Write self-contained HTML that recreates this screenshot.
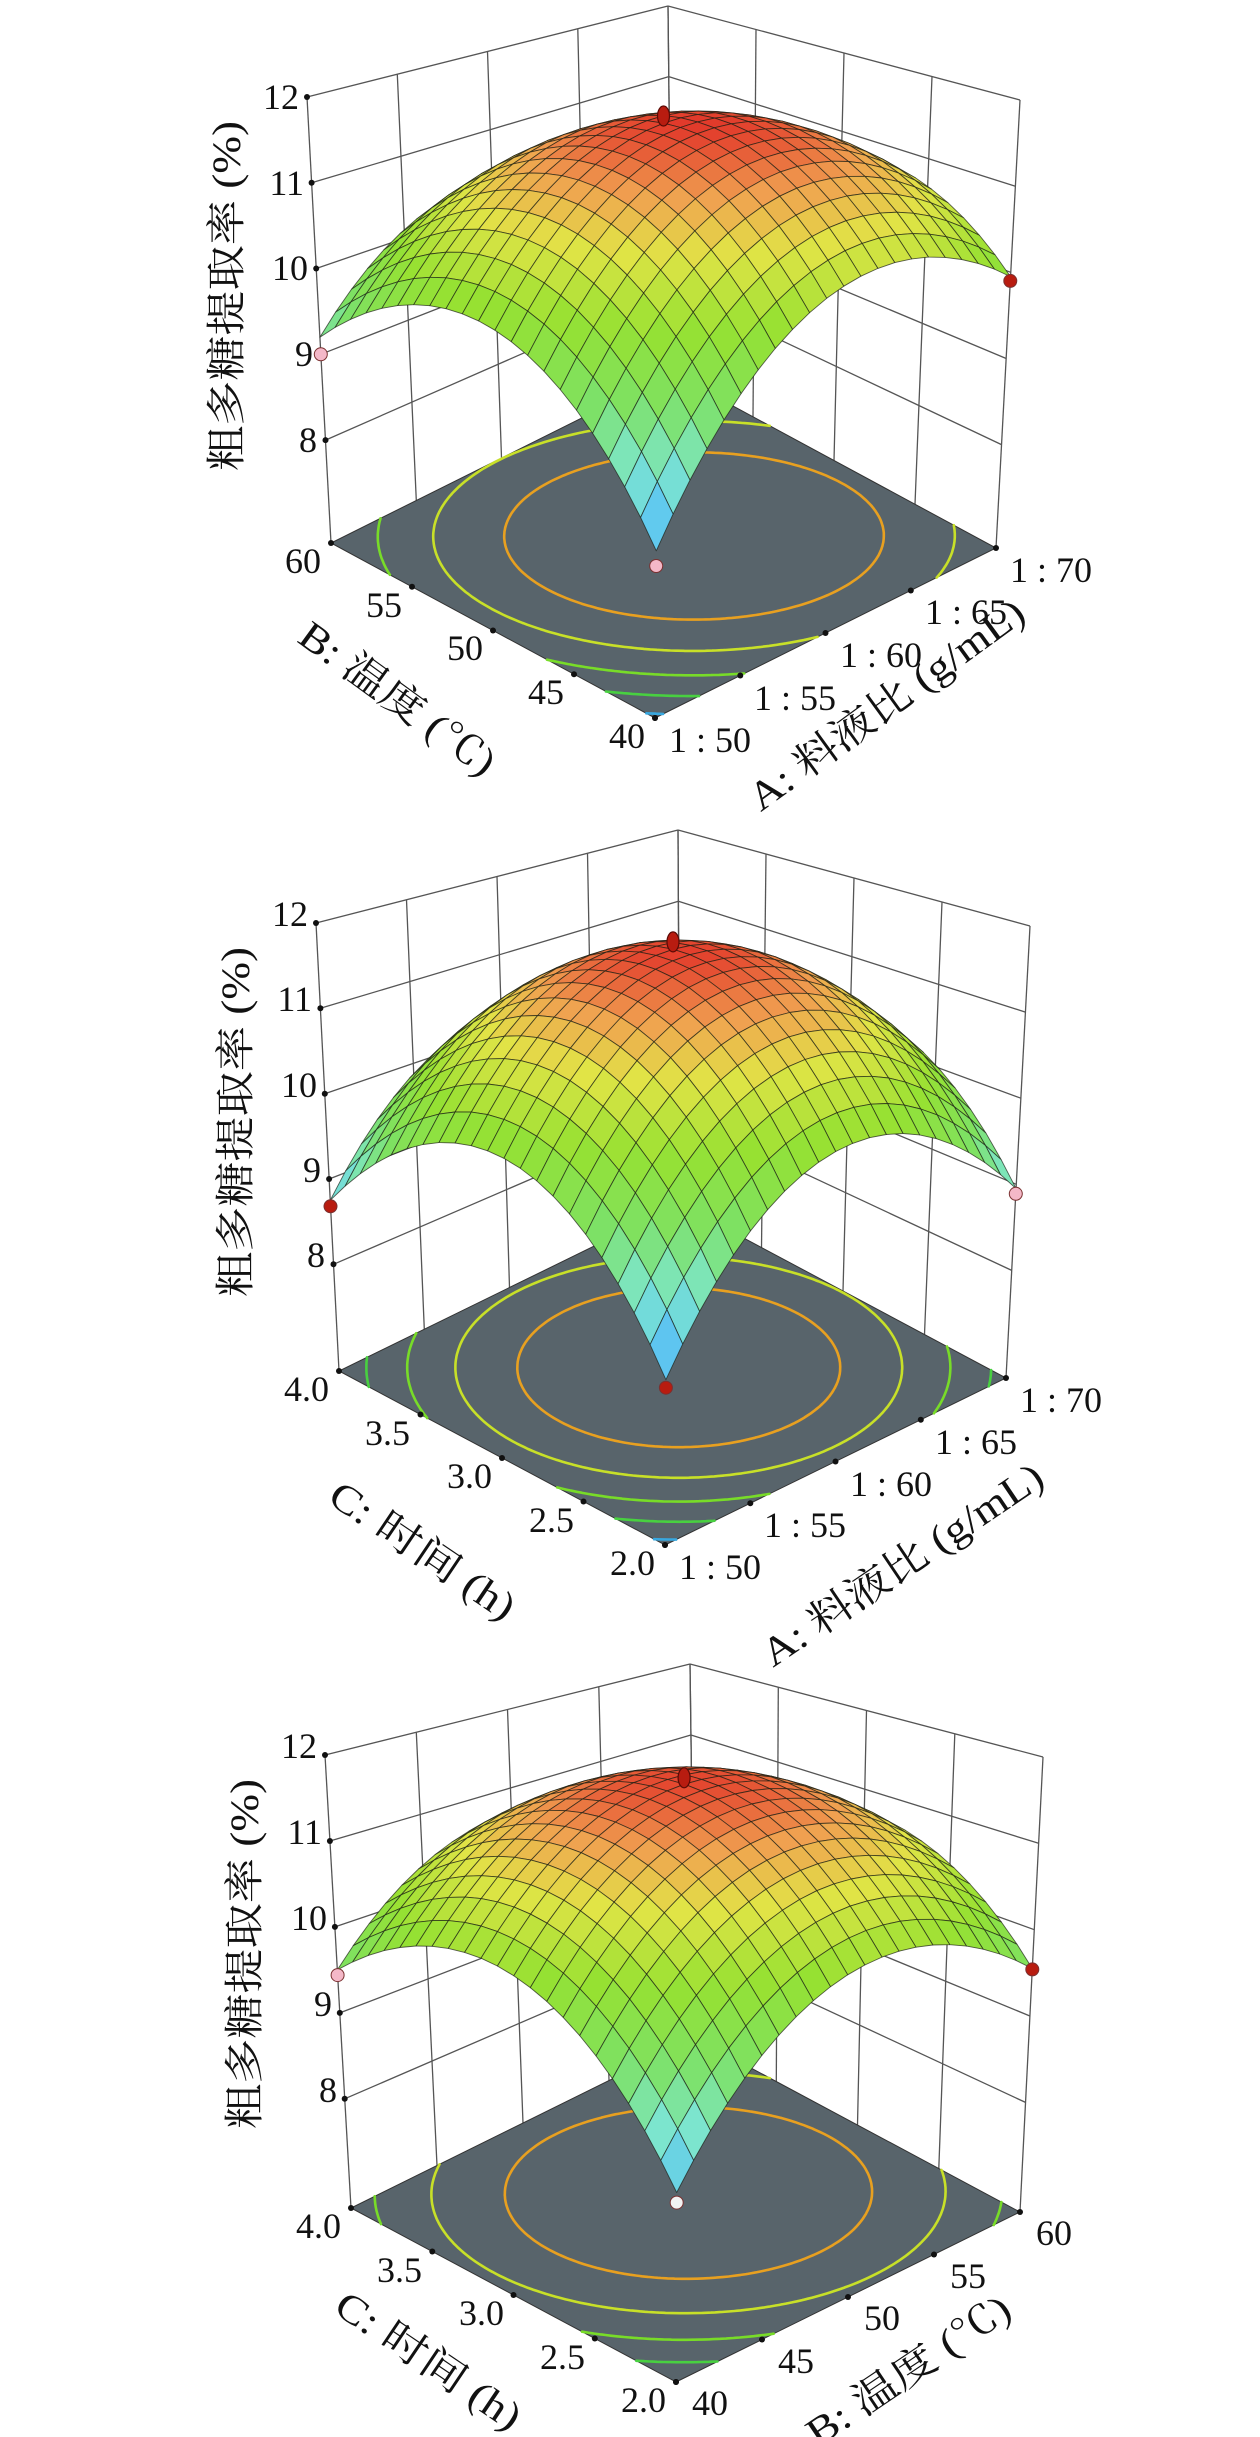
<!DOCTYPE html>
<html><head><meta charset="utf-8">
<style>
html,body{margin:0;padding:0;background:#fff;}
svg{display:block;}
.t{font-family:"Liberation Serif","Noto Serif CJK SC",serif;font-size:36px;fill:#111;}
.ttl{font-family:"Liberation Serif","Noto Serif CJK SC",serif;font-size:40px;fill:#111;}
</style></head>
<body>
<svg id="s" xmlns="http://www.w3.org/2000/svg" width="1260" height="2437" viewBox="0 0 1260 2437">
<rect width="1260" height="2437" fill="#fff"/>
<g id="p1"></g><g id="p2"></g><g id="p3"></g>
<g class="t">
<text x="299" y="109" text-anchor="end">12</text>
<text x="304" y="195" text-anchor="end">11</text>
<text x="308" y="280" text-anchor="end">10</text>
<text x="313" y="366" text-anchor="end">9</text>
<text x="317" y="452" text-anchor="end">8</text>
<text x="321" y="573" text-anchor="end">60</text>
<text x="402" y="617" text-anchor="end">55</text>
<text x="483" y="660" text-anchor="end">50</text>
<text x="564" y="704" text-anchor="end">45</text>
<text x="645" y="748" text-anchor="end">40</text>
<text x="669" y="752">1 : 50</text>
<text x="754" y="710">1 : 55</text>
<text x="840" y="667">1 : 60</text>
<text x="925" y="624">1 : 65</text>
<text x="1010" y="582">1 : 70</text>
<text x="308" y="926" text-anchor="end">12</text>
<text x="312" y="1011" text-anchor="end">11</text>
<text x="317" y="1097" text-anchor="end">10</text>
<text x="321" y="1182" text-anchor="end">9</text>
<text x="325" y="1267" text-anchor="end">8</text>
<text x="329" y="1401" text-anchor="end">4.0</text>
<text x="410" y="1445" text-anchor="end">3.5</text>
<text x="492" y="1488" text-anchor="end">3.0</text>
<text x="574" y="1532" text-anchor="end">2.5</text>
<text x="655" y="1575" text-anchor="end">2.0</text>
<text x="679" y="1579">1 : 50</text>
<text x="764" y="1537">1 : 55</text>
<text x="850" y="1496">1 : 60</text>
<text x="935" y="1454">1 : 65</text>
<text x="1020" y="1412">1 : 70</text>
<text x="317" y="1758" text-anchor="end">12</text>
<text x="322" y="1844" text-anchor="end">11</text>
<text x="327" y="1930" text-anchor="end">10</text>
<text x="332" y="2016" text-anchor="end">9</text>
<text x="337" y="2102" text-anchor="end">8</text>
<text x="341" y="2238" text-anchor="end">4.0</text>
<text x="422" y="2282" text-anchor="end">3.5</text>
<text x="504" y="2325" text-anchor="end">3.0</text>
<text x="585" y="2369" text-anchor="end">2.5</text>
<text x="666" y="2412" text-anchor="end">2.0</text>
<text x="692" y="2415">40</text>
<text x="778" y="2373">45</text>
<text x="864" y="2330">50</text>
<text x="950" y="2288">55</text>
<text x="1036" y="2245">60</text>
</g>
<g class="ttl" text-anchor="middle">
<text transform="translate(226,296) rotate(-90)" y="14" textLength="350" lengthAdjust="spacingAndGlyphs">粗多糖提取率 (%)</text>
<text transform="translate(235,1122) rotate(-90)" y="14" textLength="350" lengthAdjust="spacingAndGlyphs">粗多糖提取率 (%)</text>
<text transform="translate(244,1954) rotate(-90)" y="14" textLength="350" lengthAdjust="spacingAndGlyphs">粗多糖提取率 (%)</text>
<text transform="translate(398,698) rotate(36)" y="14" textLength="232" lengthAdjust="spacingAndGlyphs">B: 温度 (℃)</text>
<text transform="translate(886,704) rotate(-36)" y="14" textLength="330" lengthAdjust="spacingAndGlyphs">A: 料液比 (g/mL)</text>
<text transform="translate(423,1550) rotate(34)" y="14" textLength="215" lengthAdjust="spacingAndGlyphs">C: 时间 (h)</text>
<text transform="translate(902,1564) rotate(-34)" y="14" textLength="330" lengthAdjust="spacingAndGlyphs">A: 料液比 (g/mL)</text>
<text transform="translate(429,2360) rotate(34)" y="14" textLength="215" lengthAdjust="spacingAndGlyphs">C: 时间 (h)</text>
<text transform="translate(908,2370) rotate(-34)" y="14" textLength="237" lengthAdjust="spacingAndGlyphs">B: 温度 (℃)</text>
</g>
</svg>
<script>
const NS="http://www.w3.org/2000/svg";
function el(p,n,a){const e=document.createElementNS(NS,n);for(const k in a)e.setAttribute(k,a[k]);p.appendChild(e);return e;}
const stops=[[8.2,[70,110,235]],[8.7,[95,200,240]],[9.1,[125,230,205]],[9.6,[125,225,100]],[10.2,[150,225,50]],[10.8,[225,228,70]],[11.25,[240,160,80]],[11.7,[225,50,40]]];
function col(z){if(z<=stops[0][0])return stops[0][1];for(let i=1;i<stops.length;i++){if(z<=stops[i][0]){const a=stops[i-1],b=stops[i],t=(z-a[0])/(b[0]-a[0]);return a[1].map((v,k)=>Math.round(v+(b[1][k]-v)*t));}}return stops[stops.length-1][1];}
function rgb(c){return "rgb("+c.join(",")+")";}
function plot(g,c){
 const B=[c.L[0]+c.R[0]-c.F[0],c.L[1]+c.R[1]-c.F[1]];
 const H=12-c.zf;
 const Vl=[(c.LT[0]-c.L[0])/H,(c.LT[1]-c.L[1])/H],Vr=[(c.RT[0]-c.R[0])/H,(c.RT[1]-c.R[1])/H],Vb=[(c.BT[0]-B[0])/H,(c.BT[1]-B[1])/H];
 const Vf=[Vl[0]+Vr[0]-Vb[0],Vl[1]+Vr[1]-Vb[1]];
 function P(u,v,z){const x=c.F[0]+u*(c.R[0]-c.F[0])+v*(c.L[0]-c.F[0]),y=c.F[1]+u*(c.R[1]-c.F[1])+v*(c.L[1]-c.F[1]);
  const w00=(1-u)*(1-v),w10=u*(1-v),w01=(1-u)*v,w11=u*v;
  const vx=w00*Vf[0]+w10*Vr[0]+w01*Vl[0]+w11*Vb[0],vy=w00*Vf[1]+w10*Vr[1]+w01*Vl[1]+w11*Vb[1];
  const h=z-c.zf;return [x+vx*h,y+vy*h];}
 const [f00,f10,f01,f11,cz]=c.f;
 const a1=(f10+f11-f00-f01)/4,b1=(f01+f11-f00-f10)/4,ab=(f00+f11-f10-f01)/4,avg=(f00+f10+f01+f11)/4,a2=(avg-cz)/2;
 function f(u,v){const U=2*u-1,W=2*v-1;return cz+a1*U+b1*W+ab*U*W+a2*U*U+a2*W*W;}
 const ln=(a,b,s,w)=>el(g,"line",{x1:a[0].toFixed(1),y1:a[1].toFixed(1),x2:b[0].toFixed(1),y2:b[1].toFixed(1),stroke:s,"stroke-width":w});
 for(let z=8;z<=12;z++){ln(P(0,1,z),P(1,1,z),"#555",1.3);ln(P(1,0,z),P(1,1,z),"#555",1.3);}
 for(let k=0;k<=4;k++){const t=k/4;ln(P(t,1,c.zf),P(t,1,12),"#555",1.3);ln(P(1,t,c.zf),P(1,t,12),"#555",1.3);}
 const fl=[P(0,0,c.zf),P(1,0,c.zf),P(1,1,c.zf),P(0,1,c.zf)];
 el(g,"polygon",{points:fl.map(p=>p.map(v=>v.toFixed(1)).join(",")).join(" "),fill:"#58646b",stroke:"#333","stroke-width":1});
 const levels=[[11.0,"#e8a020"],[10.4,"#c8e028"],[9.8,"#78dc28"],[9.2,"#48d040"],[8.6,"#38a8e0"]];
 const N=90;
 for(const [lv,cl] of levels){let d="";
  for(let i=0;i<N;i++)for(let j=0;j<N;j++){
   const u0=i/N,u1=(i+1)/N,v0=j/N,v1=(j+1)/N;
   const cs=[[u0,v0],[u1,v0],[u1,v1],[u0,v1]];const vals=cs.map(p=>f(p[0],p[1])-lv);
   const pts=[];for(let k=0;k<4;k++){const a=vals[k],b=vals[(k+1)%4];if((a<0)!=(b<0)){const t=a/(a-b);const p=cs[k],q=cs[(k+1)%4];pts.push([p[0]+(q[0]-p[0])*t,p[1]+(q[1]-p[1])*t]);}}
   if(pts.length>=2){const A=P(pts[0][0],pts[0][1],c.zf),Bq=P(pts[1][0],pts[1][1],c.zf);d+="M"+A[0].toFixed(1)+" "+A[1].toFixed(1)+"L"+Bq[0].toFixed(1)+" "+Bq[1].toFixed(1);}
  }
  if(d)el(g,"path",{d:d,stroke:cl,"stroke-width":2.6,fill:"none","stroke-linecap":"round"});}
 for(let k=0;k<=4;k++){const t=k/4;for(const p of [P(0,t,c.zf),P(t,0,c.zf)])el(g,"circle",{cx:p[0].toFixed(1),cy:p[1].toFixed(1),r:3,fill:"#111"});}
 for(let z=8;z<=12;z++){const p=P(0,1,z);el(g,"circle",{cx:p[0].toFixed(1),cy:p[1].toFixed(1),r:3,fill:"#111"});}
 const M=21,q=[];
 for(let i=0;i<M;i++)for(let j=0;j<M;j++)q.push([i,j]);
 q.sort((a,b)=>(b[0]+b[1])-(a[0]+a[1]));
 const sg=el(g,"g",{});
 for(const [i,j] of q){const u0=i/M,u1=(i+1)/M,v0=j/M,v1=(j+1)/M;
  const cc=[[u0,v0],[u1,v0],[u1,v1],[u0,v1]];const zs=cc.map(p=>f(p[0],p[1]));const zm=(zs[0]+zs[1]+zs[2]+zs[3])/4;
  const pts=cc.map((p,k)=>P(p[0],p[1],zs[k]));
  el(sg,"polygon",{points:pts.map(p=>p[0].toFixed(1)+","+p[1].toFixed(1)).join(" "),fill:rgb(col(zm)),stroke:"rgba(25,30,20,0.7)","stroke-width":0.9,"stroke-linejoin":"round"});}
 for(const [u,v,z,cl] of c.dots){const p=P(u,v,z);
  if(u==0.5)el(g,"ellipse",{cx:p[0].toFixed(1),cy:(p[1]-4).toFixed(1),rx:6,ry:10,fill:cl,stroke:"#5a0a05","stroke-width":1.2});
  else el(g,"circle",{cx:p[0].toFixed(1),cy:p[1].toFixed(1),r:6.5,fill:cl,stroke:"#7a3030","stroke-width":1});}
}
const RED="#b81c10",PINK="#f4b8c8",WHITE="#f2f2f2";
plot(document.getElementById("p1"),{L:[331,543],F:[655,718],R:[996,548],LT:[307,97],RT:[1020,100],BT:[668,6],zf:6.8,f:[8.45,9.95,9.2,9.1,11.65],
 dots:[[0.5,0.5,11.75,RED],[0,1,9.0,PINK],[1,0,9.9,RED],[0,0,8.3,PINK]]});
plot(document.getElementById("p2"),{L:[339,1371],F:[665,1545],R:[1006,1378],LT:[316,923],RT:[1030,926],BT:[678,830],zf:6.75,f:[8.4,8.95,8.75,8.9,11.65],
 dots:[[0.5,0.5,11.75,RED],[0,1,8.68,RED],[1,0,8.89,PINK],[0,0,8.32,RED]]});
plot(document.getElementById("p3"),{L:[351,2208],F:[676,2382],R:[1020,2212],LT:[325,1755],RT:[1043,1757],BT:[690,1664],zf:6.73,f:[8.6,9.55,9.5,9.6,11.6],
 dots:[[0.5,0.5,11.7,RED],[0,1,9.44,PINK],[1,0,9.54,RED],[0,0,8.5,WHITE]]});
</script>
</body></html>
